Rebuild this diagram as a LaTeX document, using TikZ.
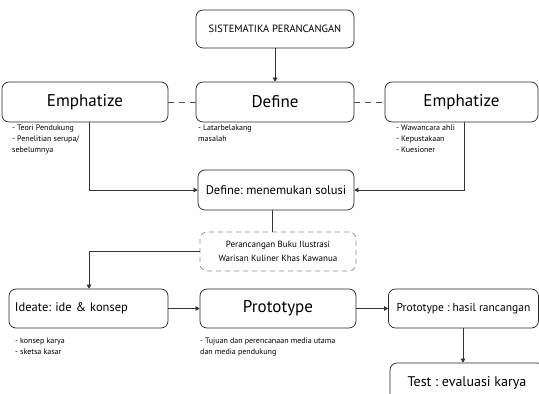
\documentclass[tikz,border=0pt]{standalone}
\usepackage{fontspec}
\setmainfont{PT Sans}
\usetikzlibrary{arrows.meta}
\begin{document}
\frenchspacing
\begin{tikzpicture}[x=1pt,y=-1pt,
  box/.style={draw=black!85,line width=0.7pt,rounded corners=7pt,inner sep=0pt,align=center},
  dbox/.style={draw=black!45,line width=0.8pt,dash pattern=on 5pt off 4pt,rounded corners=7pt,inner sep=0pt,align=center},
  note/.style={anchor=north west,align=left,inner sep=0pt,font=\fontsize{8}{11}\selectfont},
  conn/.style={draw=black!80,line width=0.6pt},
  arr/.style={conn,-{Triangle[length=4pt,width=4.5pt]}},
  dconn/.style={draw=black!70,line width=0.6pt,dash pattern=on 6pt off 5pt},
  big/.style={font=\fontsize{17}{19}\selectfont},
  mid/.style={font=\fontsize{12.5}{14}\selectfont}]
\useasboundingbox (0,0) rectangle (539,394);
\clip (0,0) rectangle (539,394);
\node[box,minimum width=158pt,minimum height=38pt,font=\fontsize{10.5}{12}\selectfont] (top) at (275,29) {SISTEMATIKA PERANCANGAN};
\node[box,big,minimum width=166pt,minimum height=40pt] (e1) at (85,102) {Emphatize};
\node[box,big,minimum width=158pt,minimum height=40pt] (def) at (275,102) {Define};
\node[box,big,minimum width=153pt,minimum height=40pt] (e2) at (461.5,102) {Emphatize};
\node[box,mid,minimum width=156pt,minimum height=40pt] (sol) at (276,190) {Define: menemukan solusi};
\node[dbox,minimum width=156pt,minimum height=39pt,font=\fontsize{9}{14}\selectfont] (buku) at (278,251.5) {Perancangan Buku Ilustrasi\\Warisan Kuliner Khas Kawanua};
\node[box,mid,minimum width=159pt,minimum height=39pt,text width=147pt,align=left] (ide) at (88.5,308.5) {Ideate: ide \& konsep};
\node[box,big,minimum width=156pt,minimum height=39pt] (proto) at (278,308.5) {Prototype};
\node[box,minimum width=150pt,minimum height=39pt,font=\fontsize{11.5}{13}\selectfont] (hasil) at (463.5,308.5) {Prototype : hasil rancangan};
\node[box,minimum width=154pt,minimum height=40pt,font=\fontsize{14}{16}\selectfont] (test) at (467,383) {Test : evaluasi karya};

\node[note] (n1) at (12,124.5) {- Teori Pendukung\\- Penelitian serupa/\\sebelumnya};
\node[note] (n2) at (198,124.5) {- Latarbelakang\\masalah};
\node[note] (n3) at (396,124.5) {- Wawancara ahli\\- Kepustakaan\\- Kuesioner};
\node[note] (n4) at (15,337.5) {- konsep karya\\- sketsa kasar};
\node[note] (n5) at (200,337.5) {- Tujuan dan perencanaan media utama\\dan media pendukung};

\draw[arr] (top.south) -- (def.north);
\draw[dconn] (e1.east) -- (def.west);
\draw[dconn] (def.east) -- (e2.west);
\draw[arr] (e1.south -| 89,0) |- (sol.west);
\draw[arr] (e2.south -| 464,0) |- (sol.east);
\draw[conn] (sol.south -| 272,0) -- (buku.north -| 272,0);
\draw[arr] (buku.west) -| (ide.north -| 89,0);
\draw[arr] (ide.east) -- (proto.west);
\draw[arr] (proto.east) -- (hasil.west);
\draw[arr] (hasil.south -| 463,0) -- (test.north -| 463,0);
\end{tikzpicture}
\end{document}
